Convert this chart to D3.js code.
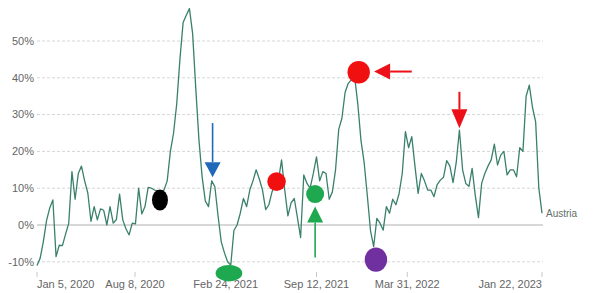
<!DOCTYPE html>
<html>
<head>
<meta charset="utf-8">
<script src="https://cdn.jsdelivr.net/npm/d3@7/dist/d3.min.js"></script>
<style>
	body { margin: 0; background: #fff; }
	svg { font-family: "Liberation Sans", Arial, sans-serif; display: block; }
	.grid line { stroke: #d6d6d6; stroke-dasharray: 3,2; }
	.grid line.zero { stroke: #b0b0b0; stroke-dasharray: none; }
	.axis-label { fill: #666; font-size: 11px; }
</style>
</head>
<body>
<div id="chart"></div>
<script>
// weekly excess mortality (%), first week ending Jan 5, 2020
var startDate = "2020-01-05",
	seriesName = "Austria",
	excess = [
		-11, -9, -4.5, 1.2, 4.6, 6.8, -8.6, -5.5, -5.6, -2.5,
		0.5, 14.5, 7, 14, 16, 12, 8.7, 1, 5, 1.4,
		4.4, 4, 0, 5, 0.5, 1.5, 8.4, 1.4, -1, -2.7,
		0.5, 0.3, 10, 3, 5, 10.2, 10, 9.5, 9.3, 9,
		9.5, 12, 20, 25, 33, 45, 55, 57, 58.8, 52,
		37, 23, 13, 6.5, 5, 12, 10.4, 2.5, -4.5, -7.5,
		-10, -10.9, -1.5, 0, 3.2, 7.2, 5, 9.5, 12, 15,
		12.5, 9.5, 4.2, 5.5, 9, 11, 12, 17.7, 9.5, 2.5,
		6, 7.2, 2, -3.4, 13.6, 11.3, 10, 14, 18.5, 12,
		14.5, 14, 7, 9, 15, 26, 29, 36, 38.5, 39.5,
		40.3, 33, 23, 17, 8, -1.5, -5.9, 1.8, 0.5, -1.4,
		5, 3.2, 7, 5.5, 8.5, 14, 25.4, 21, 24, 16,
		8.6, 14, 12, 9.5, 9.5, 7.7, 11, 12.2, 13, 17.5,
		16, 11.5, 17, 25.8, 15, 11.3, 10.5, 15.4, 8, 2,
		11.3, 14, 16, 17.7, 22, 16.3, 19, 20, 13.6, 15,
		15, 13.1, 21, 20, 35, 38, 32, 28, 10, 3.2
	],
	yTicks = [-10, 0, 10, 20, 30, 40, 50],
	xTickDates = ["2020-01-05", "2020-08-08", "2021-02-24", "2021-09-12", "2022-03-31", "2023-01-22"],
	xTickLabels = ["Jan 5, 2020", "Aug 8, 2020", "Feb 24, 2021", "Sep 12, 2021", "Mar 31, 2022", "Jan 22, 2023"];

// hand-drawn annotations: where each one sits on the chart
var markDates = ["2020-10-02", "2021-03-03", "2021-06-16", "2021-09-09", "2021-12-14", "2022-01-21"],
	markValues = [6.8, -13.1, 11.8, 8.4, 41.5, -9.4],
	arrowTailDates = ["2021-01-26", "2021-09-09", "2022-04-10", "2022-07-24"],
	arrowTailValues = [27.7, -8.8, 41.7, 36.2],
	arrowTipDates = ["2021-01-26", "2021-09-09", "2022-01-17", "2022-07-24"],
	arrowTipValues = [13.0, 5.0, 41.7, 26.3];

(function() {
	"use strict";

	var width = 593,
		height = 293,
		parseDate = d3.timeParse("%Y-%m-%d"),
		start = parseDate(startDate),
		lineColor = "#3a806c",
		x = d3.scaleTime()
			.domain([start, parseDate("2023-01-22")])
			.range([37, 542]),
		y = d3.scaleLinear()
			.domain([-10, 50])
			.range([261.8, 41]);

	var data = excess.map(function(v, i) {
		return { date: d3.timeDay.offset(start, i * 7), value: v };
	});

	var svg = d3.select("#chart")
		.append("svg")
		.attr("width", width)
		.attr("height", height);

	// gridlines
	var grid = svg.append("g").classed("grid", true);
	grid.selectAll("line")
		.data(yTicks)
		.enter()
		.append("line")
		.classed("zero", function(d) { return d === 0; })
		.attr("x1", x.range()[0])
		.attr("x2", x.range()[1] + 1)
		.attr("y1", function(d) { return y(d); })
		.attr("y2", function(d) { return y(d); });

	svg.append("g")
		.selectAll("text")
		.data(yTicks)
		.enter()
		.append("text")
		.classed("axis-label", true)
		.attr("x", 34)
		.attr("y", function(d) { return y(d); })
		.attr("dy", "0.35em")
		.attr("text-anchor", "end")
		.text(function(d) { return d + "%"; });

	// x ticks
	var xt = svg.append("g")
		.selectAll("g")
		.data(xTickDates)
		.enter()
		.append("g")
		.attr("transform", function(d) {
			return "translate(" + x(parseDate(d)) + ",0)";
		});

	xt.append("line")
		.attr("y1", 272)
		.attr("y2", 277)
		.attr("stroke", "#c8c8c8");

	xt.append("text")
		.classed("axis-label", true)
		.attr("y", 288)
		.attr("text-anchor", function(d, i) {
			return i === 0 ? "start" : (i === xTickDates.length - 1 ? "end" : "middle");
		})
		.text(function(d, i) { return xTickLabels[i]; });

	// the series
	var line = d3.line()
		.x(function(d) { return x(d.date); })
		.y(function(d) { return y(d.value); });

	svg.append("path")
		.datum(data)
		.attr("fill", "none")
		.attr("stroke", lineColor)
		.attr("stroke-width", 1.3)
		.attr("stroke-linejoin", "round")
		.attr("d", line);

	var last = data[data.length - 1];
	svg.append("text")
		.attr("x", x(last.date) + 4)
		.attr("y", y(last.value))
		.attr("dy", "0.35em")
		.attr("font-size", "10px")
		.attr("fill", "#5f6f69")
		.text(seriesName);

	// annotations
	var markStyle = [
		{ rx: 8, ry: 10.5, fill: "#000" },
		{ rx: 13.3, ry: 8.3, fill: "#1ea84f" },
		{ rx: 9.3, ry: 9.3, fill: "#f01010" },
		{ rx: 9, ry: 9, fill: "#1ea84f" },
		{ rx: 11.2, ry: 11.2, fill: "#f01010" },
		{ rx: 11.2, ry: 12.2, fill: "#7030a0" }
	];

	svg.append("g")
		.selectAll("ellipse")
		.data(markDates)
		.enter()
		.append("ellipse")
		.attr("cx", function(d) { return x(parseDate(d)); })
		.attr("cy", function(d, i) { return y(markValues[i]); })
		.attr("rx", function(d, i) { return markStyle[i].rx; })
		.attr("ry", function(d, i) { return markStyle[i].ry; })
		.attr("fill", function(d, i) { return markStyle[i].fill; });

	var arrowStyle = [
		{ color: "#2168b9", head: 15, half: 8, w: 1.6 },
		{ color: "#1ea84f", head: 16, half: 8, w: 1.6 },
		{ color: "#ec1018", head: 16, half: 8, w: 2 },
		{ color: "#ec1018", head: 19, half: 8, w: 2 }
	];

	var arrowG = svg.append("g")
		.selectAll("g")
		.data(arrowTailDates)
		.enter()
		.append("g");

	arrowG.each(function(d, i) {
		var g = d3.select(this),
			s = arrowStyle[i],
			x1 = x(parseDate(d)),
			y1 = y(arrowTailValues[i]),
			x2 = x(parseDate(arrowTipDates[i])),
			y2 = y(arrowTipValues[i]),
			len = Math.sqrt((x2 - x1) * (x2 - x1) + (y2 - y1) * (y2 - y1)),
			ux = (x2 - x1) / len,
			uy = (y2 - y1) / len,
			bx = x2 - ux * s.head,
			by = y2 - uy * s.head;

		g.append("line")
			.attr("x1", x1).attr("y1", y1)
			.attr("x2", bx).attr("y2", by)
			.attr("stroke", s.color)
			.attr("stroke-width", s.w);

		g.append("path")
			.attr("d", "M" + x2 + "," + y2 +
				"L" + (bx - uy * s.half) + "," + (by + ux * s.half) +
				"L" + (bx + uy * s.half) + "," + (by - ux * s.half) + "Z")
			.attr("fill", s.color);
	});
})();
</script>
</body>
</html>
